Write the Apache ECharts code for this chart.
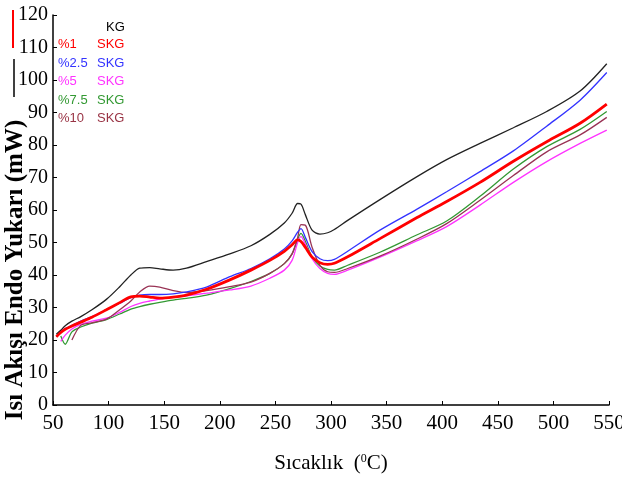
<!DOCTYPE html>
<html>
<head>
<meta charset="utf-8">
<script src="https://cdn.jsdelivr.net/npm/echarts@6/dist/echarts.min.js"></script>
<style>
  html, body { margin: 0; padding: 0; background: #fff; }
  #main { width: 622px; height: 481px; }
</style>
</head>
<body>
<div id="main"></div>
<script>
// temperature grid (°C) shared by all curves
const temps = [53, 57, 61, 67, 75, 85, 98, 110, 120, 128, 137, 146, 158, 170, 188, 209, 228, 245, 258, 265,
  270, 273, 277, 283, 290, 297, 303, 315, 344, 377, 404, 434, 464, 494, 524, 548];

const kg = [21.8, 23, 24.4, 25.8, 27.2, 29.3, 32.5, 36.4, 40, 42.1, 42.3, 41.9, 41.5, 42.1, 44.1, 46.5, 49, 52.5, 56, 59,
  62, 61.8, 58.5, 53.8, 52.6, 53, 54, 56.8, 63.2, 70.2, 75.5, 80.5, 85.3, 90.3, 96.6, 105];
const skg1 = [21, 22.3, 23.3, 24.3, 25.5, 27, 29.3, 31.5, 33.3, 33.5, 33.2, 32.9, 33.2, 33.8, 35.6, 38.5, 41.5, 44.5, 47.3, 49.3,
  50.8, 50.3, 48.5, 45.5, 43.8, 43.3, 43.6, 45.6, 51.2, 57.6, 62.6, 68.5, 75, 81, 86.7, 92.6];
const skg25 = [21, 22.5, 23.5, 24.5, 25.8, 27.2, 29.3, 31.3, 33, 33.8, 34, 34, 34.2, 34.8, 36.3, 39.5, 42, 45, 48, 50.5,
  53.2, 54.3, 51.5, 47.2, 45, 44.4, 44.8, 47.3, 53.8, 60.2, 65.6, 71.8, 78.2, 85.8, 93.8, 102.3];
const skg5 = [null, 19.6, 21.5, 23.4, 24.8, 25.8, 26.7, 28.5, 30.3, 31.3, 32, 32.6, 33.1, 33.6, 34.4, 35.4, 36.6, 39, 41.5, 44.5,
  50, 51.8, 49.5, 45, 42, 40.5, 40.2, 41.5, 45.5, 50.5, 54.9, 61.5, 68.5, 74.9, 80.5, 84.6];
const skg75 = [null, 21.2, 18.7, 22.5, 24, 25.2, 26.3, 28, 29.5, 30.3, 31, 31.6, 32.3, 32.8, 33.8, 35.8, 38, 40.5, 43.5, 46.5,
  51, 52.8, 50.3, 45.5, 42.8, 41.7, 41.5, 43, 47, 52.3, 56.6, 64.2, 72.6, 79.5, 84.8, 90.3];
const skg10 = [null, null, null, 20, 24.5, 25.3, 26.4, 29.3, 32, 34.8, 36.6, 36.3, 35.2, 34.6, 35.2, 36.4, 37.8, 40.5, 43.5, 46.5,
  51.5, 55.5, 55.3, 48.5, 43, 41, 40.8, 42, 45.8, 51, 55.8, 63, 70.6, 77.9, 83.1, 88.5];

const legendRows = [
  ['%1', '#ff0000'],
  ['%2.5', '#3333ff'],
  ['%5', '#ff33ff'],
  ['%7.5', '#339933'],
  ['%10', '#993344']
];

function pairs(vals) {
  return temps.map((t, i) => [t, vals[i]]).filter(p => p[1] != null);
}

function line(name, vals, color, width) {
  return {
    name: name,
    type: 'line',
    data: pairs(vals),
    smooth: 0.3,
    showSymbol: false,
    lineStyle: { color: color, width: width },
    itemStyle: { color: color },
    z: 2
  };
}

const serif = '"Liberation Serif", "Times New Roman", serif';
const sans = '"Liberation Sans", Arial, sans-serif';

const legendGraphics = [{
  type: 'text', left: 106, top: 21,
  style: { text: 'KG', fill: '#000', font: '13px ' + sans }
}];
legendRows.forEach((r, i) => {
  legendGraphics.push({
    type: 'text', left: 58, top: 38 + i * 18.5,
    style: { text: r[0], fill: r[1], font: '13px ' + sans }
  });
  legendGraphics.push({
    type: 'text', left: 97, top: 38 + i * 18.5,
    style: { text: 'SKG', fill: r[1], font: '13px ' + sans }
  });
});

const chart = echarts.init(document.getElementById('main'));
chart.setOption({
  animation: false,
  backgroundColor: '#fff',
  grid: { left: 53, right: 13, top: 15, bottom: 76, outerBoundsMode: 'none' },
  xAxis: {
    type: 'value', min: 50, max: 550, interval: 50,
    name: '{a|Sıcaklık  (}{s|0}{a|C)}',
    nameLocation: 'middle', nameGap: 48,
    nameTextStyle: {
      rich: {
        a: { fontFamily: serif, fontSize: 21, color: '#000' },
        s: { fontFamily: serif, fontSize: 12, color: '#000', padding: [0, 0, 9, 0] }
      }
    },
    axisLine: { lineStyle: { color: '#000', width: 1.5 } },
    axisTick: { inside: true, length: 4, lineStyle: { color: '#000' } },
    axisLabel: { fontFamily: serif, fontSize: 21, color: '#000', margin: 8 },
    splitLine: { show: false }
  },
  yAxis: {
    type: 'value', min: 0, max: 120, interval: 10,
    axisLine: { show: true, lineStyle: { color: '#000', width: 1.5 } },
    axisTick: { show: true, inside: true, length: 4, lineStyle: { color: '#000' } },
    axisLabel: { fontFamily: serif, fontSize: 20, color: '#000', margin: 5 },
    splitLine: { show: false }
  },
  graphic: legendGraphics.concat([
    {
      type: 'text', x: 16, y: 270, rotation: Math.PI / 2,
      style: {
        text: 'Isı Akışı Endo Yukarı (mW)', fill: '#000',
        font: 'bold 25px ' + serif, align: 'center', verticalAlign: 'middle'
      }
    },
    { type: 'line', shape: { x1: 13, y1: 10, x2: 13, y2: 48 }, style: { stroke: '#ff0000', lineWidth: 2 } },
    { type: 'line', shape: { x1: 14, y1: 59, x2: 14, y2: 97 }, style: { stroke: '#000', lineWidth: 1.5 } }
  ]),
  series: [
    line('KG', kg, '#222222', 1.3),
    line('%7.5 SKG', skg75, '#339933', 1.3),
    line('%5 SKG', skg5, '#ff33ff', 1.3),
    line('%10 SKG', skg10, '#993355', 1.3),
    line('%2.5 SKG', skg25, '#3333ff', 1.3),
    line('%1 SKG', skg1, '#ff0000', 2.8)
  ]
});
</script>
</body>
</html>
